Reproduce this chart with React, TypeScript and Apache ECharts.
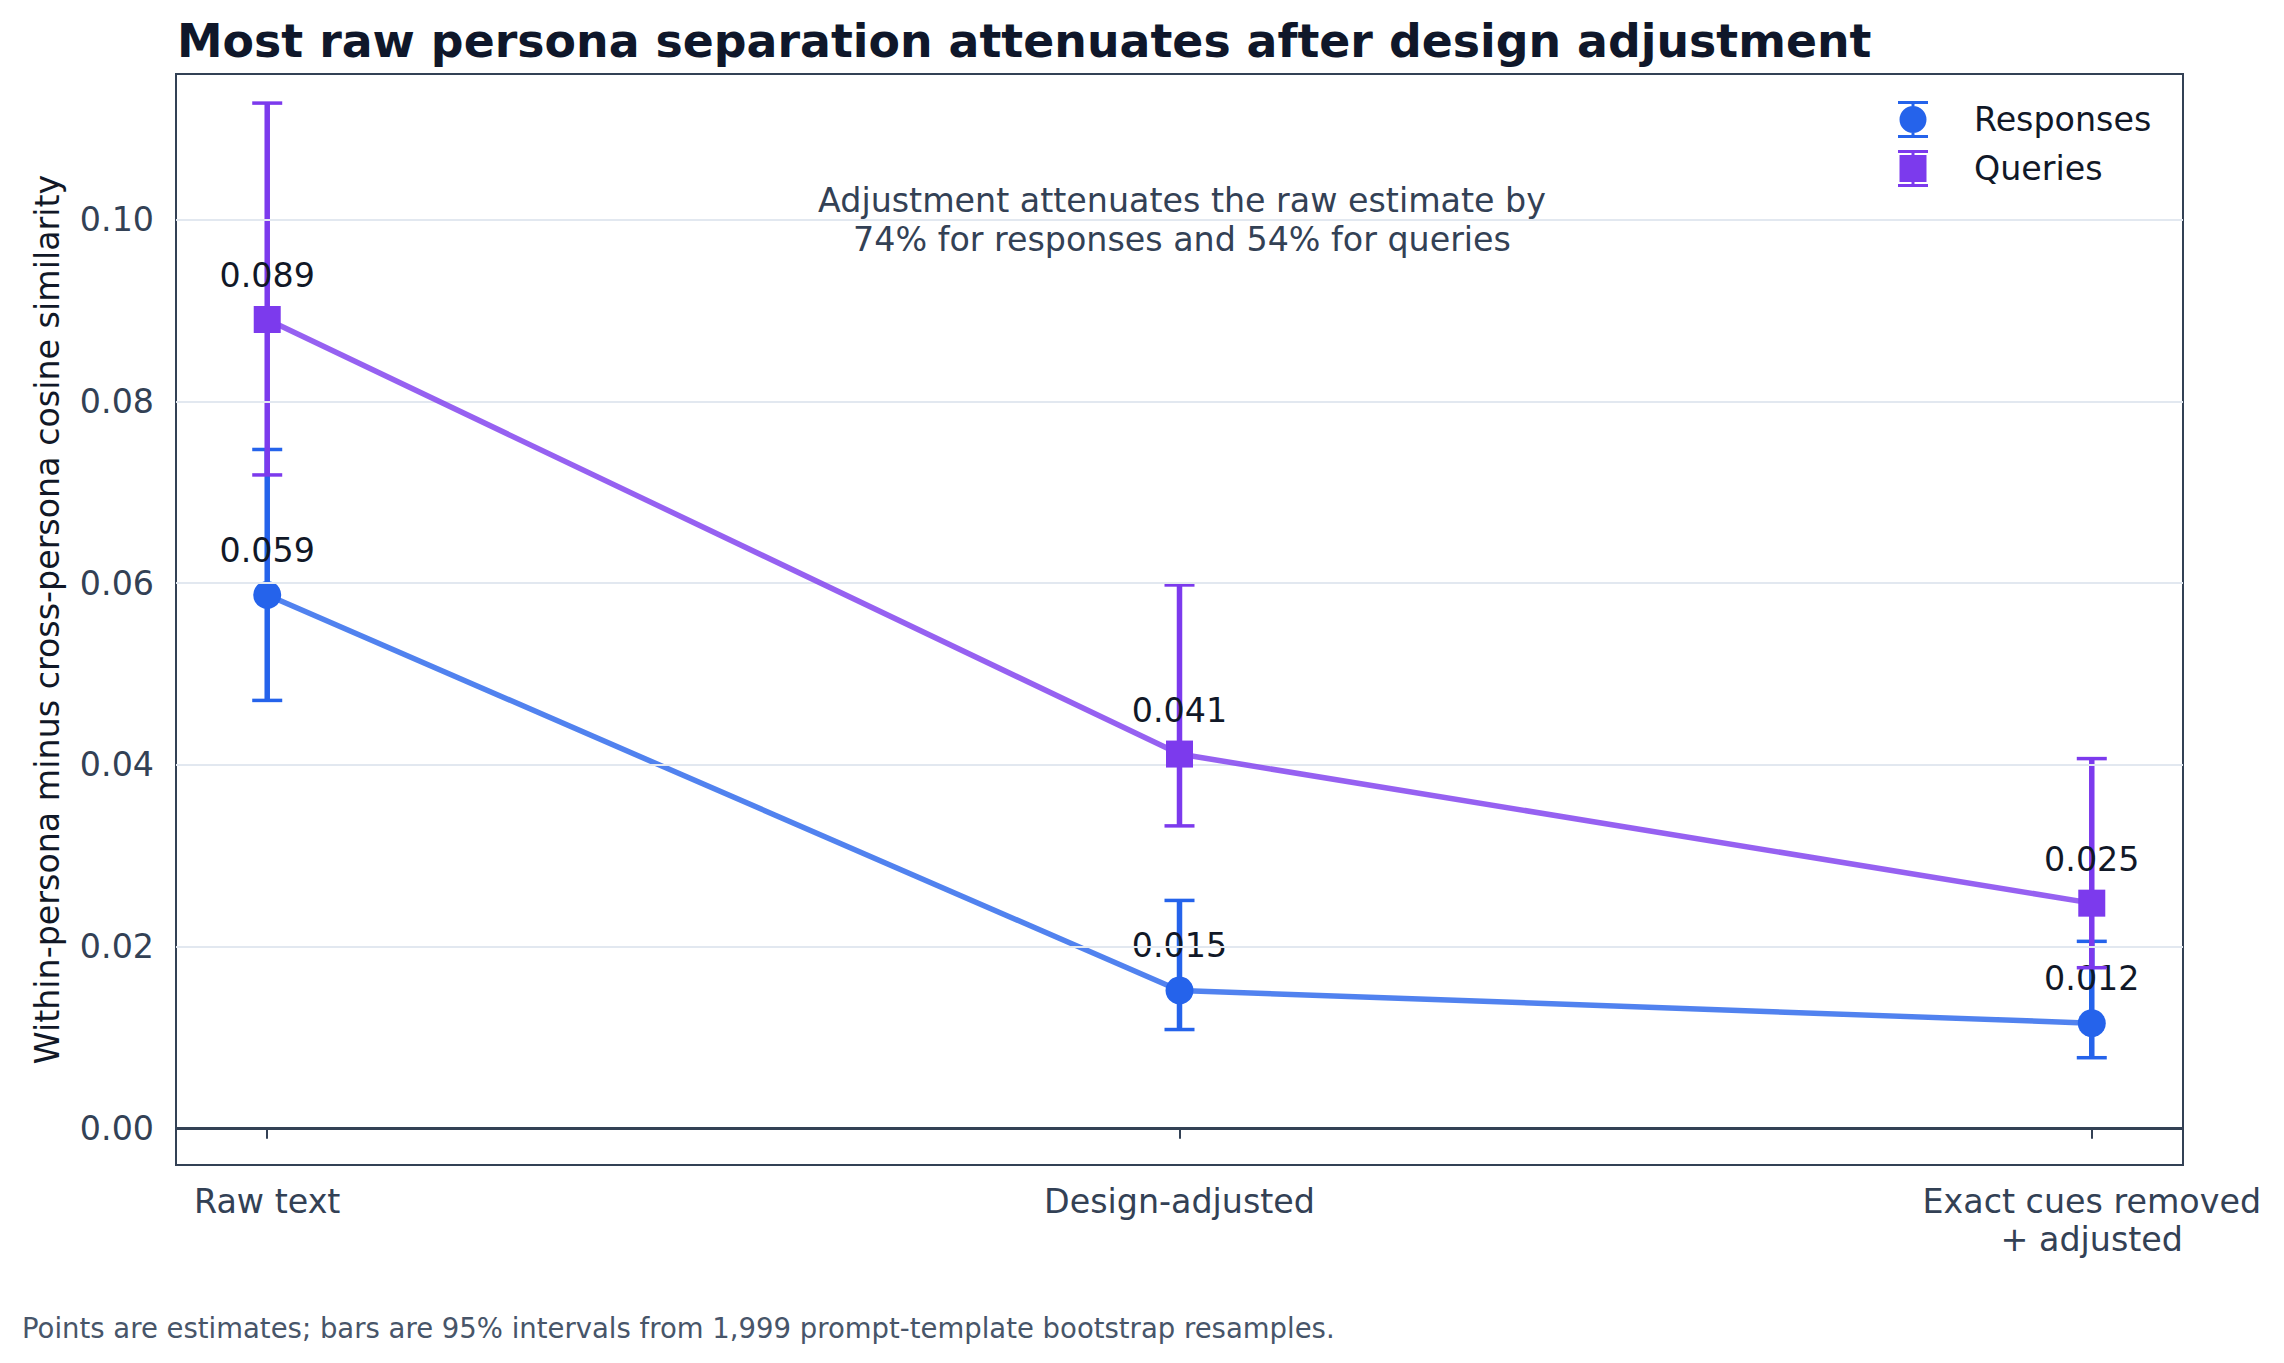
import React, { useEffect, useRef } from "react";
import * as echarts from "echarts";

const categories = ["Raw text", "Design-adjusted", "Exact cues removed\n+ adjusted"];
const categoryPos = [0, 1, 2];
const responsesEst = [0.0587, 0.0152, 0.0116];
const responsesLow = [0.0471, 0.0109, 0.0078];
const responsesHigh = [0.0747, 0.0251, 0.0206];
const queriesEst = [0.089, 0.0412, 0.0248];
const queriesLow = [0.0719, 0.0333, 0.0177];
const queriesHigh = [0.1128, 0.0598, 0.0407];
const yTicks = [0, 0.02, 0.04, 0.06, 0.08, 0.1];
const gridValues = [0.02, 0.04, 0.06, 0.08, 0.1];

const BLUE = "#2563eb";
const PURPLE = "#7c3aed";
const FONT = "DejaVu Sans";
const FS = 33.3;

const respIcon =
  "path://M0,0H30V3H0Z M0,34H30V37H0Z M13.5,3H16.5V34H13.5Z M1.5,18.5A13.5,13.5 0 1,1 28.5,18.5A13.5,13.5 0 1,1 1.5,18.5Z";
const queryIcon =
  "path://M0,0H30V3H0Z M0,34H30V37H0Z M13.5,3H16.5V34H13.5Z M1.5,5H28.5V32H1.5Z";

function errRender(color: string) {
  return (params: any, api: any) => {
    const x = api.value(0);
    const lo = api.value(1);
    const hi = api.value(2);
    const pLo = api.coord([x, lo]);
    const pHi = api.coord([x, hi]);
    const hw = 15;
    const stem = { stroke: color, lineWidth: 5.5 };
    const cap = { stroke: color, lineWidth: 3.5 };
    return {
      type: "group",
      children: [
        { type: "line", shape: { x1: pLo[0], y1: pLo[1], x2: pHi[0], y2: pHi[1] }, style: stem },
        { type: "line", shape: { x1: pLo[0] - hw, y1: pLo[1], x2: pLo[0] + hw, y2: pLo[1] }, style: cap },
        { type: "line", shape: { x1: pHi[0] - hw, y1: pHi[1], x2: pHi[0] + hw, y2: pHi[1] }, style: cap },
      ],
    };
  };
}

export default function App() {
  const ref = useRef<HTMLDivElement>(null);
  useEffect(() => {
    document.body.style.margin = "0";
    const chart = echarts.init(ref.current!, null, { renderer: "svg" });
    const respErr = categoryPos.map((x, i) => [x, responsesLow[i], responsesHigh[i]]);
    const queryErr = categoryPos.map((x, i) => [x, queriesLow[i], queriesHigh[i]]);
    const respLine = categoryPos.map((x, i) => [x, responsesEst[i]]);
    const queryLine = categoryPos.map((x, i) => [x, queriesEst[i]]);
    const labelStyle = {
      show: true,
      position: "top",
      distance: 14,
      fontSize: FS,
      fontFamily: FONT,
      color: "#111827",
      textBorderWidth: 0,
      textBorderColor: "transparent",
      formatter: (p: any) => p.value[1].toFixed(3),
    };
    chart.setOption({
      animation: false,
      backgroundColor: "#ffffff",
      textStyle: { fontFamily: FONT },
      title: {
        text: "Most raw persona separation attenuates after design adjustment",
        left: 177,
        top: 18,
        padding: 0,
        textStyle: { fontSize: 45.8, fontWeight: "bold", color: "#0f172a", fontFamily: FONT },
      },
      legend: {
        orient: "vertical",
        left: 1898,
        top: 101,
        padding: 0,
        itemWidth: 30,
        itemHeight: 37,
        itemGap: 12,
        textStyle: { fontSize: FS, color: "#111827", fontFamily: FONT, padding: [0, 0, 0, 41] },
        data: [
          { name: "Responses", icon: respIcon, itemStyle: { color: BLUE } },
          { name: "Queries", icon: queryIcon, itemStyle: { color: PURPLE } },
        ],
      },
      grid: {
        left: 176,
        right: 101,
        top: 74,
        bottom: 198,
        show: true,
        borderColor: "#334155",
        borderWidth: 2,
        backgroundColor: "transparent",
      },
      xAxis: {
        type: "value",
        min: -0.1,
        max: 2.1,
        axisLine: { show: false },
        splitLine: { show: false },
        axisTick: { show: true, length: 10, lineStyle: { color: "#334155", width: 2 }, customValues: categoryPos },
        axisLabel: {
          customValues: categoryPos,
          margin: 17,
          fontSize: FS,
          lineHeight: 38,
          color: "#334155",
          fontFamily: FONT,
          align: "center",
          formatter: (v: number) => categories[Math.round(v)] ?? "",
        },
      },
      yAxis: {
        type: "value",
        min: -0.004,
        max: 0.116,
        name: "Within-persona minus cross-persona cosine similarity",
        nameLocation: "middle",
        nameRotate: 90,
        nameGap: 112,
        nameTextStyle: { fontSize: FS, color: "#111827", fontFamily: FONT },
        axisLine: { show: false },
        splitLine: { show: false },
        axisTick: { show: true, length: 10, lineStyle: { color: "#334155", width: 2 }, customValues: yTicks },
        axisLabel: {
          customValues: yTicks,
          margin: 22,
          fontSize: FS,
          color: "#334155",
          fontFamily: FONT,
          formatter: (v: number) => v.toFixed(2),
        },
      },
      graphic: [
        {
          type: "text",
          x: 1182,
          y: 181,
          style: {
            text: "Adjustment attenuates the raw estimate by\n74% for responses and 54% for queries",
            fontSize: FS,
            lineHeight: 39,
            fontFamily: FONT,
            fill: "#334155",
            align: "center",
            verticalAlign: "top",
          },
        },
        {
          type: "text",
          x: 22,
          y: 1328,
          style: {
            text: "Points are estimates; bars are 95% intervals from 1,999 prompt-template bootstrap resamples.",
            fontSize: 27.5,
            fontFamily: FONT,
            fill: "#475569",
            align: "left",
            verticalAlign: "middle",
          },
        },
      ],
      series: [
        {
          name: "grid",
          type: "line",
          data: [],
          z: 1,
          silent: true,
          markLine: {
            silent: true,
            symbol: ["none", "none"],
            label: { show: false },
            lineStyle: { color: "#e2e8f0", width: 2, type: "solid" },
            data: [
              ...gridValues.map((v) => ({ yAxis: v })),
              { yAxis: 0, lineStyle: { color: "#334155", width: 3, type: "solid" } },
            ],
          },
        },
        {
          name: "Responses",
          type: "custom",
          z: 2,
          renderItem: errRender(BLUE),
          encode: { x: 0, y: [1, 2] },
          data: respErr,
          itemStyle: { color: BLUE },
        },
        {
          name: "Responses",
          type: "line",
          z: 3,
          data: respLine,
          symbol: "circle",
          symbolSize: 28,
          itemStyle: { color: BLUE },
          lineStyle: { color: BLUE, width: 5.5, opacity: 0.8 },
          label: labelStyle,
        },
        {
          name: "Queries",
          type: "custom",
          z: 4,
          renderItem: errRender(PURPLE),
          encode: { x: 0, y: [1, 2] },
          data: queryErr,
          itemStyle: { color: PURPLE },
        },
        {
          name: "Queries",
          type: "line",
          z: 5,
          data: queryLine,
          symbol: "rect",
          symbolSize: 27,
          itemStyle: { color: PURPLE },
          lineStyle: { color: PURPLE, width: 5.5, opacity: 0.8 },
          label: labelStyle,
        },
      ],
    });
    return () => chart.dispose();
  }, []);
  return <div ref={ref} style={{ width: 2284, height: 1363 }} />;
}
